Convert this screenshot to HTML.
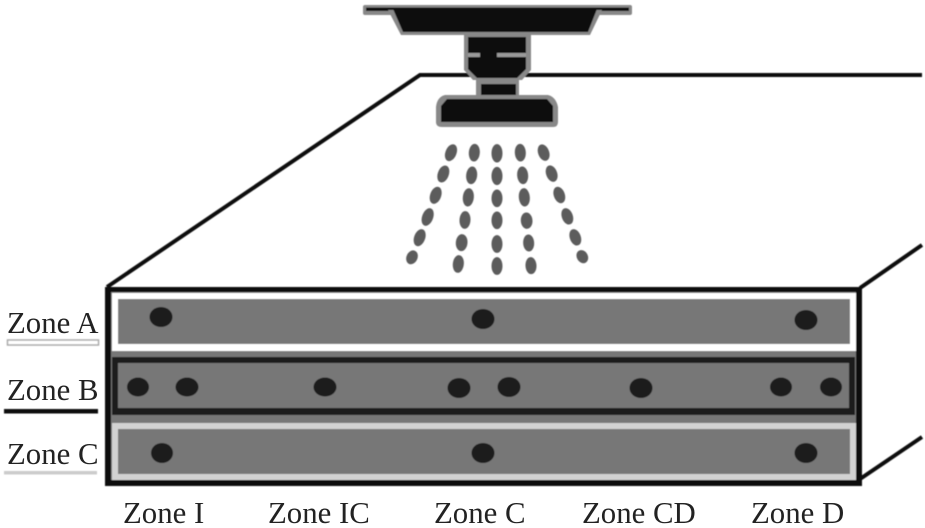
<!DOCTYPE html>
<html>
<head>
<meta charset="utf-8">
<style>
html,body{margin:0;padding:0;background:#fff;width:925px;height:528px;overflow:hidden}
svg{display:block}
text{font-family:"Liberation Serif",serif;font-size:30.8px;fill:#222}
</style>
</head>
<body>
<svg width="925" height="528" viewBox="0 0 925 528" xmlns="http://www.w3.org/2000/svg">
<defs>
<filter id="b" x="-5%" y="-5%" width="110%" height="110%"><feGaussianBlur stdDeviation="0.5"/></filter>
</defs>
<rect width="925" height="528" fill="#fff"/>
<g filter="url(#b)">
<!-- box perspective lines -->
<polyline points="107,287 420,75 922,75" fill="none" stroke="#111" stroke-width="4"/>
<line x1="860" y1="288" x2="922" y2="245" stroke="#111" stroke-width="4"/>
<line x1="860" y1="479" x2="922" y2="437" stroke="#111" stroke-width="4"/>

<!-- front face -->
<rect x="105" y="287" width="757" height="199" fill="#111"/>
<rect x="111" y="292" width="745" height="188" fill="#777"/>
<!-- Zone A -->
<rect x="112" y="293" width="744" height="58" fill="#fff"/>
<rect x="118" y="299" width="732" height="45" fill="#777"/>
<!-- Zone B -->
<rect x="112" y="357" width="743" height="58" fill="#1c1c1c"/>
<rect x="118" y="363" width="731" height="45" fill="#777"/>
<!-- Zone C -->
<rect x="112" y="423" width="744" height="57" fill="#d2d2d2"/>
<rect x="118" y="429" width="732" height="45" fill="#777"/>

<!-- dots -->
<g fill="#1c1c1c">
<ellipse cx="161" cy="317" rx="11.5" ry="10"/>
<ellipse cx="483" cy="319" rx="11.5" ry="10"/>
<ellipse cx="806" cy="320" rx="11.5" ry="10"/>
<ellipse cx="138" cy="387" rx="11" ry="9.5"/>
<ellipse cx="187" cy="387" rx="11.5" ry="9.5"/>
<ellipse cx="325" cy="387" rx="11.5" ry="9.5"/>
<ellipse cx="459" cy="388" rx="11.5" ry="10"/>
<ellipse cx="509" cy="387" rx="11.5" ry="10"/>
<ellipse cx="641" cy="388" rx="11.5" ry="10"/>
<ellipse cx="781" cy="387" rx="11" ry="9.5"/>
<ellipse cx="831" cy="387" rx="11" ry="9.5"/>
<ellipse cx="162" cy="453" rx="11" ry="10"/>
<ellipse cx="483" cy="453" rx="11.5" ry="10"/>
<ellipse cx="806" cy="453" rx="11.5" ry="10"/>
</g>

<!-- nozzle -->
<rect x="363" y="5" width="269" height="10" rx="2" fill="#888"/>
<rect x="366" y="7.5" width="263" height="3.5" fill="#111"/>
<polygon points="388,10 602,10 590,35 401,35" fill="#888"/>
<polygon points="393,9 597,9 588,32 403,32" fill="#111"/>
<path d="M464,35 H531 V70 L522,80 H473 L464,70 Z" fill="#888"/>
<path d="M468,37 H526 V69 L517,78 H477 L468,69 Z" fill="#111"/>
<rect x="468" y="53" width="12" height="4" fill="#999"/>
<rect x="497" y="53" width="29" height="4" fill="#999"/>
<rect x="476" y="80" width="43" height="18" fill="#888"/>
<rect x="481" y="84" width="35" height="12" fill="#111"/>
<path d="M445,95 H548 Q556,97 558,107 V122 Q558,127 553,127 H442 Q436,127 436,122 V107 Q437,97 445,95 Z" fill="#888"/>
<path d="M447,99 H547 L553,106 V122 H441 V106 Z" fill="#111"/>

<!-- spray -->
<g fill="#5c5c5c" stroke="#5c5c5c" stroke-width="5" transform="translate(380,135) scale(0.3333)">
<ellipse cx="213" cy="53" rx="14" ry="24" transform="rotate(22 213 53)"/>
<ellipse cx="283" cy="53" rx="14" ry="24" transform="rotate(4 283 53)"/>
<ellipse cx="351" cy="55" rx="14" ry="25"/>
<ellipse cx="421" cy="53" rx="14" ry="24" transform="rotate(-3 421 53)"/>
<ellipse cx="491" cy="53" rx="14" ry="23" transform="rotate(-20 491 53)"/>
<ellipse cx="190" cy="117" rx="14" ry="24" transform="rotate(20 190 117)"/>
<ellipse cx="275" cy="121" rx="14" ry="24" transform="rotate(6 275 121)"/>
<ellipse cx="351" cy="123" rx="14" ry="25"/>
<ellipse cx="428" cy="121" rx="14" ry="24" transform="rotate(-5 428 121)"/>
<ellipse cx="515" cy="116" rx="14" ry="23" transform="rotate(-20 515 116)"/>
<ellipse cx="167" cy="181" rx="14" ry="24" transform="rotate(20 167 181)"/>
<ellipse cx="265" cy="187" rx="14" ry="25" transform="rotate(6 265 187)"/>
<ellipse cx="351" cy="190" rx="14" ry="24"/>
<ellipse cx="433" cy="187" rx="14" ry="25" transform="rotate(-5 433 187)"/>
<ellipse cx="538" cy="180" rx="14" ry="23" transform="rotate(-20 538 180)"/>
<ellipse cx="143" cy="246" rx="14" ry="25" transform="rotate(20 143 246)"/>
<ellipse cx="255" cy="255" rx="14" ry="24" transform="rotate(3 255 255)"/>
<ellipse cx="351" cy="256" rx="14" ry="24"/>
<ellipse cx="440" cy="257" rx="15" ry="22" transform="rotate(-4 440 257)"/>
<ellipse cx="562" cy="244" rx="14" ry="23" transform="rotate(-20 562 244)"/>
<ellipse cx="119" cy="308" rx="14" ry="24" transform="rotate(20 119 308)"/>
<ellipse cx="245" cy="323" rx="15" ry="23" transform="rotate(5 245 323)"/>
<ellipse cx="351" cy="327" rx="14" ry="24"/>
<ellipse cx="446" cy="324" rx="14" ry="23" transform="rotate(-3 446 324)"/>
<ellipse cx="586" cy="307" rx="14" ry="23" transform="rotate(-20 586 307)"/>
<ellipse cx="96" cy="367" rx="14" ry="19" transform="rotate(25 96 367)"/>
<ellipse cx="235" cy="387" rx="14" ry="24" transform="rotate(6 235 387)"/>
<ellipse cx="351" cy="393" rx="14" ry="24"/>
<ellipse cx="453" cy="392" rx="14" ry="23" transform="rotate(-3 453 392)"/>
<ellipse cx="607" cy="365" rx="14" ry="18" transform="rotate(-30 607 365)"/>
</g>

<!-- legend lines -->
<rect x="7.5" y="340" width="91" height="5" fill="#fff" stroke="#aaa" stroke-width="1.5"/>
<rect x="4" y="409" width="94" height="4.5" fill="#111"/>
<rect x="4" y="471" width="93" height="3.5" fill="#ccc"/>
</g>

<!-- labels -->
<text x="7" y="333">Zone A</text>
<text x="7" y="400">Zone B</text>
<text x="7" y="464">Zone C</text>
<text x="123" y="523">Zone I</text>
<text x="268" y="523">Zone IC</text>
<text x="434" y="523">Zone C</text>
<text x="582" y="523">Zone CD</text>
<text x="751" y="523">Zone D</text>
</svg>
</body>
</html>
